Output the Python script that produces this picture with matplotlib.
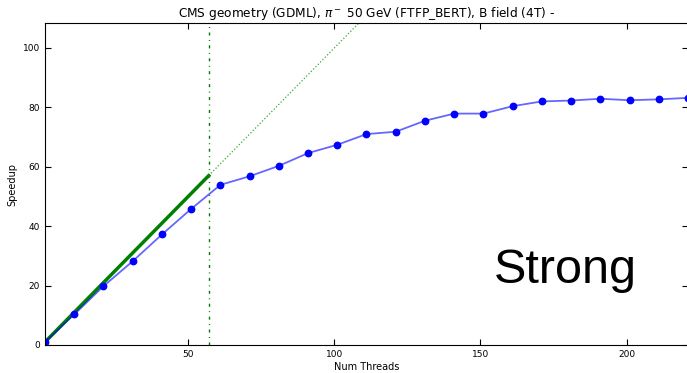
import numpy as np
import matplotlib.pyplot as plt

threads = [1, 11, 21, 31, 41, 51, 61, 71, 81, 91, 101, 111, 121, 131, 141,
           151, 161, 171, 181, 191, 201, 211, 221]
speedup = [1.0, 10.3, 19.8, 28.2, 37.2, 45.8, 53.9, 56.8, 60.3, 64.6, 67.4,
           71.0, 71.8, 75.5, 77.9, 77.9, 80.4, 82.0, 82.3, 82.9, 82.4, 82.7, 83.2]
n_cores = 57
ideal_end = 120

fig = plt.figure(figsize=(6.87, 3.73), dpi=100)
ax = fig.add_axes([45 / 687, 28 / 373, 643 / 687, 322 / 373])

# ideal scaling up to the physical cores, then dotted
ax.plot([1, n_cores], [1, n_cores], color="green", lw=2.5)
ax.plot([n_cores, ideal_end], [n_cores, ideal_end], color="#33aa33", lw=0.9, ls=":")
ax.axvline(n_cores, color="green", lw=1.0, ls=(0, (2.2, 3.2, 0.7, 3.2)))

ax.plot(threads, speedup, color="blue", lw=1.3, alpha=0.6)
ax.plot(threads, speedup, "o", color="blue", ms=4.6, mec="blue")

ax.text(179, 25, "Strong", fontsize=35, family="Liberation Sans",
        ha="center", va="center")

ax.set_xlim(1, 221)
ax.set_ylim(0, 108.4)
ax.set_xticks([50, 100, 150, 200])
ax.set_yticks([0, 20, 40, 60, 80, 100])
ax.tick_params(direction="in", top=True, right=True, labelsize=6.5, length=4)
ax.set_xlabel("Num Threads", fontsize=7, labelpad=2)
ax.set_ylabel("Speedup", fontsize=7)
ax.set_title(r"CMS geometry (GDML), $\pi^-$ 50 GeV (FTFP_BERT), B field (4T) -",
             fontsize=8.7, pad=4)

fig.savefig("out.png", dpi=100)
